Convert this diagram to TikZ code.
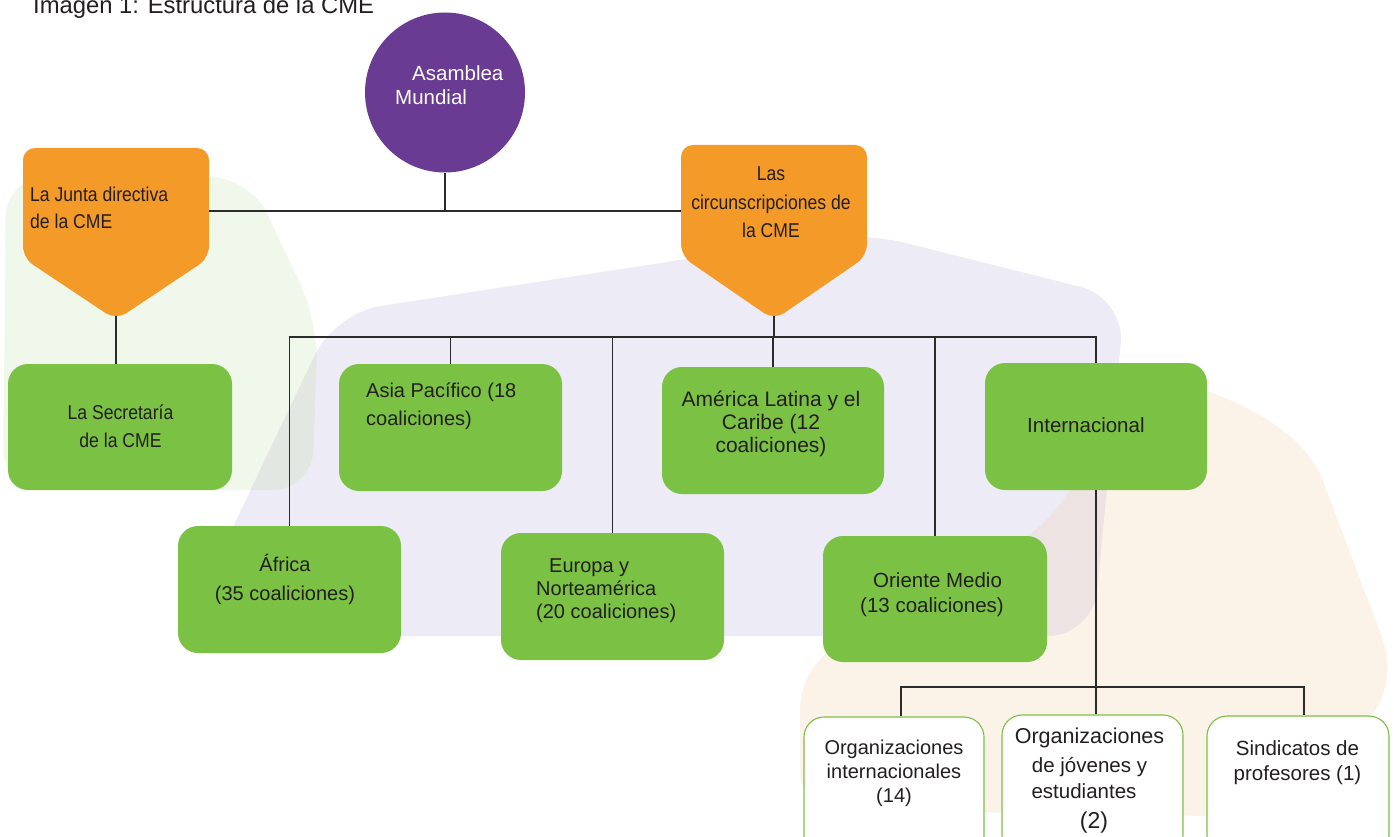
\documentclass[tikz,border=0pt]{standalone}
\usepackage{fontspec}
\setmainfont{Liberation Sans}
\newfontfamily\nrw{Liberation Sans}[FakeStretch=0.88]
\newcommand{\cmefs}[2]{\fontsize{#1}{#2}\selectfont}
\definecolor{cmeorange}{HTML}{F39A28}
\definecolor{cmegreen}{HTML}{7BC143}
\definecolor{cmepurple}{HTML}{6A3B92}
\definecolor{txtc}{HTML}{231F20}
\definecolor{bggreen}{HTML}{F0F7EB}
\definecolor{bglav}{HTML}{EDEBF5}
\definecolor{bgpeach}{HTML}{FCF3E8}
\definecolor{ovgl}{HTML}{E3E7E1}
\definecolor{ovlp}{HTML}{EDE3E3}
\definecolor{linec}{HTML}{2B2B2B}
\tikzset{
  gbox/.style={rectangle, rounded corners=20, fill=cmegreen, inner sep=0},
  wbox/.style={rectangle, rounded corners=20, fill=white, draw=cmegreen, line width=1.1, inner sep=0},
  lbl/.style={inner sep=0, text=txtc},
  conn/.style={draw=linec, line width=1.3, line join=miter},
  greenblob/.style={insert path={(6,177) -- (250,177) -- (318,322) -- (312,490) -- (3,490) -- cycle}},
  lavblob/.style={insert path={(181,636) -- (335,313) -- (862,232) -- (1125,298) -- (1093,636) -- cycle}},
  peachblob/.style={insert path={(1120,370) .. controls (1220,385) and (1300,425) .. (1322,478) -- (1380,632) .. controls (1392,662) and (1390,690) .. (1372,715) -- (1310,800) .. controls (1300,812) and (1290,817) .. (1270,817) -- (840,810) .. controls (815,810) and (800,795) .. (800,770) -- (800,712) .. controls (800,680) and (815,658) .. (845,640) -- (1025,537) .. controls (1045,525) and (1060,505) .. (1070,490) -- cycle}}
}
\begin{document}
\begin{tikzpicture}[x=1pt, y=-1pt]
\useasboundingbox (0,0) rectangle (1394,837);
\clip (0,0) rectangle (1394,837);
% background blobs
\fill[bggreen, rounded corners=40, greenblob];
\fill[bglav, rounded corners=45, lavblob];
\fill[bgpeach, peachblob];
\begin{scope}
  \clip[rounded corners=40, greenblob];
  \fill[ovgl, rounded corners=45, lavblob];
\end{scope}
\begin{scope}
  \clip[rounded corners=45, lavblob];
  \fill[ovlp, peachblob];
\end{scope}

% title
\node[lbl, anchor=base west] (title) at (33,14) {\cmefs{23.8}{28}Imagen 1: Estructura de la CME};

% top level
\node[circle, fill=cmepurple, minimum size=160, inner sep=0] (asm) at (445,92.5) {};
\node[inner sep=0, text=white, anchor=base west] (asmtxt) at (395,81) {\cmefs{20.5}{24}\begin{tabular}[t]{@{}l@{}}\hspace*{17pt}Asamblea\\Mundial\end{tabular}};

\fill[cmeorange, rounded corners=12] (23,148) -- (209,148) -- (209,258) -- (116,320) -- (23,258) -- cycle;
\coordinate (juntatip) at (116,316);
\coordinate (juntaE) at (209,211);
\node[lbl, anchor=base west] (juntatxt) at (30,201) {\nrw\cmefs{20}{28}\begin{tabular}[t]{@{}l@{}}La Junta directiva\\de la CME\end{tabular}};

\fill[cmeorange, rounded corners=12] (681,145) -- (867,145) -- (867,256) -- (774,320) -- (681,256) -- cycle;
\coordinate (circtip) at (774,316);
\coordinate (circW) at (681,211);
\node[lbl, anchor=base] (circtxt) at (771,181) {\nrw\cmefs{20}{28.5}\begin{tabular}[t]{@{}c@{}}Las\\circunscripciones de\\la CME\end{tabular}};

% green boxes
\node[gbox, minimum width=224, minimum height=126] (secr) at (120,427) {};
\node[gbox, minimum width=223, minimum height=127] (asia) at (450.5,427.5) {};
\node[gbox, minimum width=222, minimum height=127] (amer) at (773,430.5) {};
\node[gbox, minimum width=222, minimum height=127] (intl) at (1096,426.5) {};
\node[gbox, minimum width=223, minimum height=127] (afr) at (289.5,589.5) {};
\node[gbox, minimum width=223, minimum height=127] (eur) at (612.5,596.5) {};
\node[gbox, minimum width=224, minimum height=126] (ori) at (935,599) {};

\node[lbl, anchor=base] (secrtxt) at (120.5,419) {\nrw\cmefs{20}{28}\begin{tabular}[t]{@{}c@{}}La Secretaría\\de la CME\end{tabular}};
\node[lbl, anchor=base west] (asiatxt) at (366,397) {\cmefs{20}{28}\begin{tabular}[t]{@{}l@{}}Asia Pacífico (18\\coaliciones)\end{tabular}};
\node[lbl, anchor=base] (amertxt) at (771,406) {\cmefs{21}{23}\begin{tabular}[t]{@{}c@{}}América Latina y el\\Caribe (12\\coaliciones)\end{tabular}};
\node[lbl, anchor=base west] (intltxt) at (1027,432) {\cmefs{20.5}{24}Internacional};
\node[lbl, anchor=base] (afrtxt) at (285,571) {\cmefs{20}{29}\begin{tabular}[t]{@{}c@{}}África\\(35 coaliciones)\end{tabular}};
\node[lbl, anchor=base west] (eurtxt) at (536,572) {\cmefs{20}{23}\begin{tabular}[t]{@{}l@{}}\hspace*{13pt}Europa y\\Norteamérica\\(20 coaliciones)\end{tabular}};
\node[lbl, anchor=base west] (oritxt) at (860,587) {\cmefs{20.5}{25}\begin{tabular}[t]{@{}l@{}}\hspace*{13pt}Oriente Medio\\(13 coaliciones)\end{tabular}};

% bottom boxes
\node[wbox, minimum width=180, minimum height=140] (org1) at (894,787) {};
\node[wbox, minimum width=181, minimum height=140] (org2) at (1092.5,785) {};
\node[wbox, minimum width=182, minimum height=140] (sind) at (1298,786) {};

\node[lbl, anchor=base] (org1txt) at (894,754) {\cmefs{20}{24}\begin{tabular}[t]{@{}c@{}}Organizaciones\\internacionales\\(14)\end{tabular}};
\node[lbl, anchor=base] (org2txt) at (1089.5,743) {\cmefs{20.5}{26}\begin{tabular}[t]{@{}c@{}}{\cmefs{21.5}{26}Organizaciones}\\[3pt]de jóvenes y\\estudiantes\hspace*{11pt}\\[4pt]\hspace*{9pt}{\cmefs{23}{26}(2)}\end{tabular}};
\node[lbl, anchor=base] (sindtxt) at (1297.5,755) {\cmefs{20.5}{25}\begin{tabular}[t]{@{}c@{}}Sindicatos de\\profesores (1)\end{tabular}};

% connectors
\draw[conn] (juntaE) -- (circW);
\draw[conn] (asm.south) -- (asm.south |- juntaE);
\draw[conn] (juntatip) -- (juntatip |- secr.north);
\coordinate (bus) at (774,337);
\draw[conn] (circtip) -- (bus);
\draw[conn] (afr.north) -- (afr.north |- bus) -- (intl.north |- bus) -- (intl.north);
\foreach \n in {asia,eur,amer,ori} \draw[conn] (\n.north |- bus) -- (\n.north);
\coordinate (busL) at (901,687);
\coordinate (busR) at (1304,687);
\draw[conn] (intl.south) -- (intl.south |- org2.north);
\draw[conn] (busL |- org1.north) -- (busL) -- (busR) -- (busR |- sind.north);
\end{tikzpicture}
\end{document}
